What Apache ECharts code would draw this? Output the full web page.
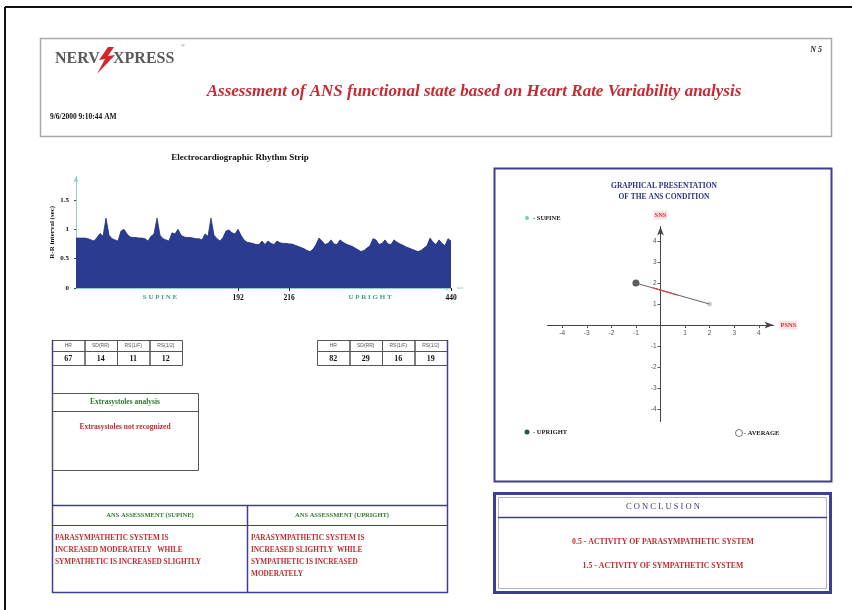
<!DOCTYPE html>
<html><head><meta charset="utf-8">
<script src="https://cdn.jsdelivr.net/npm/echarts@6/dist/echarts.min.js"></script>
<style>html,body{margin:0;padding:0;background:#fff}#c{width:852px;height:610px}</style>
</head><body><div id="c"></div>
<script>
// ---- Rhythm strip (R-R intervals, sec) ----
const rrValues = [0.85,0.85,0.85,0.85,0.84,0.82,0.80,0.86,0.93,0.88,
 1.19,0.90,0.84,0.82,0.80,0.97,1.00,0.92,0.87,0.86,
 0.86,0.85,0.85,0.84,0.80,0.88,0.92,1.19,0.90,0.84,
 0.82,0.80,0.94,0.92,1.00,0.90,0.87,0.86,0.86,0.85,
 0.84,0.84,0.82,0.92,0.88,1.19,0.90,0.84,0.80,0.86,
 0.97,0.99,0.94,0.92,1.00,0.90,0.82,0.78,0.77,0.76,
 0.74,0.74,0.80,0.74,0.80,0.76,0.74,0.80,0.77,0.76,
 0.76,0.75,0.75,0.73,0.71,0.69,0.67,0.64,0.62,0.66,
 0.74,0.85,0.80,0.74,0.76,0.82,0.75,0.74,0.82,0.78,
 0.75,0.73,0.71,0.68,0.65,0.62,0.64,0.68,0.72,0.84,
 0.82,0.74,0.76,0.82,0.75,0.74,0.82,0.78,0.75,0.73,
 0.70,0.68,0.66,0.64,0.62,0.64,0.68,0.72,0.85,0.78,
 0.74,0.82,0.76,0.72,0.84,0.80];
const rrLabelIndex = [28, 54, 71, 98, 125];
const rrLabelText = ['S U P I N E', '192', '216', 'U P R I G H T', '440'];
const rrYTicks = [0, 0.5, 1, 1.5];

// ---- ANS condition scatter ----
const scatterTicks = [-4, -3, -2, -1, 1, 2, 3, 4];
const supinePoint = [[2, 1]];
const uprightPoint = [[-1, 2]];
const averagePoint = [[0.5, 1.5]];
const shiftLine = [[-1, 2], [2, 1]];
const shiftHighlight = [[-0.3, 1.77], [0.7, 1.43]];

// ---- Tables ----
const paramNames = ['HR', 'SD(RR)', 'RS(1/F)', 'RS(1/2)'];
const supineParams = [67, 14, 11, 12];
const uprightParams = [82, 29, 16, 19];

const rrCategories = rrValues.map((v, i) => {
  const k = rrLabelIndex.indexOf(i);
  return k >= 0 ? rrLabelText[k] : '';
});

const SERIF = '"Liberation Serif", "Times New Roman", serif';
const RED = '#c62a32', GREEN = '#2f7a2a', BLUE = '#3e3e96';

function T(x, y, text, font, fill, align) {
  return {type: 'text', x: x, y: y, z: 20, style: {text: text, font: font, fill: fill || '#111', align: align || 'left', verticalAlign: 'middle'}};
}
function L(x1, y1, x2, y2, c, w) {
  return {type: 'line', z: 15, shape: {x1: x1, y1: y1, x2: x2, y2: y2}, style: {stroke: c, lineWidth: w}};
}
function R(x, y, w, h, c, lw) {
  return {type: 'rect', z: 15, shape: {x: x, y: y, width: w, height: h}, style: {stroke: c, lineWidth: lw, fill: 'none'}};
}

const g = [];
// outer frame
g.push(L(5, 7, 852, 7, '#111', 2), L(5, 7, 5, 610, '#111', 2));
// header
g.push(R(40.5, 38.5, 791, 98, '#a9a9a9', 1.5));
g.push(T(55, 59, 'NERV', 'bold 16px ' + SERIF, '#5a5a5a'));
g.push({type: 'polygon', z: 20, shape: {points: [[108, 47], [99, 60], [105, 59], [97, 74], [115, 55], [108, 56], [114, 47]]}, style: {fill: '#d4262e'}});
g.push(T(113, 59, 'XPRESS', 'bold 16px ' + SERIF, '#5a5a5a'));
g.push(T(181, 46, '®', '5px ' + SERIF, '#666'));
g.push(T(822, 50, 'N 5', 'italic bold 8px ' + SERIF, '#222', 'right'));
g.push(T(474, 92, 'Assessment of ANS functional state based on Heart Rate Variability analysis', 'italic bold 17px ' + SERIF, RED, 'center'));
g.push(T(50, 117, '9/6/2000 9:10:44 AM', 'bold 7.5px ' + SERIF, '#111'));
// strip title
g.push(T(240, 158, 'Electrocardiographic Rhythm Strip', 'bold 9px ' + SERIF, '#111', 'center'));

// tables
function table(x0, vals) {
  const cw = 32.5;
  for (let i = 0; i < 4; i++) {
    const x = x0 + i * cw;
    g.push(R(x + 0.5, 340.5, cw, 11, '#555', 1));
    g.push(R(x + 0.5, 351.5, cw, 14, '#555', 1));
    g.push(T(x + cw / 2, 346, paramNames[i], '5px "Liberation Sans", sans-serif', '#555', 'center'));
    g.push(T(x + cw / 2, 358.5, String(vals[i]), 'bold 8px ' + SERIF, '#111', 'center'));
  }
}
table(52, supineParams);
table(317, uprightParams);

// left big box sides
g.push(L(52.5, 340, 52.5, 593, BLUE, 1.5), L(447.5, 340, 447.5, 593, BLUE, 1.5));
// extrasystoles box
g.push(R(52.5, 393.5, 146, 77, '#555', 1), L(52.5, 411.5, 198.5, 411.5, '#555', 1));
g.push(T(125, 402, 'Extrasystoles analysis', 'bold 7.5px ' + SERIF, GREEN, 'center'));
g.push(T(125, 427, 'Extrasystoles not recognized', 'bold 7.5px ' + SERIF, RED, 'center'));
// ANS assessment
g.push(L(52, 505.5, 448, 505.5, BLUE, 1.5), L(52, 525.5, 448, 525.5, BLUE, 1), L(247.5, 505, 247.5, 593, BLUE, 1.5), L(52, 592.5, 448, 592.5, BLUE, 1.5));
g.push(T(150, 515, 'ANS ASSESSMENT (SUPINE)', 'bold 6.5px ' + SERIF, GREEN, 'center'));
g.push(T(342, 515, 'ANS ASSESSMENT (UPRIGHT)', 'bold 6.5px ' + SERIF, GREEN, 'center'));
const leftTxt = ['PARASYMPATHETIC SYSTEM IS', 'INCREASED MODERATELY   WHILE', 'SYMPATHETIC IS INCREASED SLIGHTLY'];
const rightTxt = ['PARASYMPATHETIC SYSTEM IS', 'INCREASED SLIGHTLY  WHILE', 'SYMPATHETIC IS INCREASED', 'MODERATELY'];
leftTxt.forEach((s, i) => g.push(T(55, 538 + i * 12, s, 'bold 7.3px ' + SERIF, RED)));
rightTxt.forEach((s, i) => g.push(T(251, 538 + i * 12, s, 'bold 7.3px ' + SERIF, RED)));

// graph box
g.push(R(494.5, 168.5, 337, 313, BLUE, 2));
g.push(T(664, 186, 'GRAPHICAL PRESENTATION', 'bold 7.5px ' + SERIF, '#2d3580', 'center'));
g.push(T(664, 197, 'OF THE ANS CONDITION', 'bold 7.5px ' + SERIF, '#2d3580', 'center'));
g.push({type: 'circle', z: 20, shape: {cx: 527, cy: 218, r: 2}, style: {fill: '#7cc8bb'}});
g.push(T(533, 218, '- SUPINE', 'bold 6.5px ' + SERIF, '#222'));
g.push({type: 'circle', z: 20, shape: {cx: 527, cy: 432, r: 2.5}, style: {fill: '#245a3a'}});
g.push(T(533, 432, '- UPRIGHT', 'bold 6.5px ' + SERIF, '#222'));
g.push({type: 'circle', z: 20, shape: {cx: 739, cy: 433, r: 3.5}, style: {fill: '#fff', stroke: '#777', lineWidth: 1}});
g.push(T(744, 433, '- AVERAGE', 'bold 6.5px ' + SERIF, '#222'));

// conclusion box
g.push(R(494.5, 493.5, 336, 99, BLUE, 3), R(498.5, 497.5, 328, 91, '#b0b0d6', 1), L(498, 517.5, 827, 517.5, BLUE, 1.5));
g.push(T(663, 507, 'C O N C L U S I O N', '8.5px ' + SERIF, '#3a3a7a', 'center'));
g.push(T(663, 542, '0.5 - ACTIVITY OF PARASYMPATHETIC SYSTEM', 'bold 7.8px ' + SERIF, RED, 'center'));
g.push(T(663, 566, '1.5 - ACTIVITY OF SYMPATHETIC SYSTEM', 'bold 7.8px ' + SERIF, RED, 'center'));

// scatter grid geometry
const sgLeft = 547.5, sgRight = 78.5, sgTop = 226.5, sgBottom = 188.5;
const sxMin = -4.6, sxMax = 4.6, syMin = -4.6, syMax = 4.7;
const sgW = 852 - sgLeft - sgRight, sgH = 610 - sgTop - sgBottom;
const xZeroOffset = -(sgW * (0 - sxMin) / (sxMax - sxMin));
const yZeroOffset = -(sgH * (0 - syMin) / (syMax - syMin));

const chart = echarts.init(document.getElementById('c'), null, {renderer: 'canvas'});
chart.setOption({
  animation: false,
  backgroundColor: '#fff',
  textStyle: {fontFamily: SERIF},
  grid: [
    {left: 76, right: 401, top: 176.5, bottom: 322},
    {left: sgLeft, right: sgRight, top: sgTop, bottom: sgBottom}
  ],
  xAxis: [
    {gridIndex: 0, type: 'category', data: rrCategories, boundaryGap: false,
     axisLine: {lineStyle: {color: '#8fd0c6', width: 1}, symbol: ['none', 'arrow'], symbolSize: [4, 6]},
     axisTick: {interval: (i) => rrLabelIndex.indexOf(i) >= 0 && !isNaN(+rrCategories[i]), length: 3, lineStyle: {color: '#222'}},
     axisLabel: {interval: 0, margin: 6, formatter: (v) => v === '' ? '' : (isNaN(+v) ? '{w|' + v + '}' : '{n|' + v + '}'),
       rich: {w: {color: '#3aa08f', fontSize: 7, fontWeight: 'bold', fontFamily: SERIF},
              n: {color: '#111', fontSize: 7.5, fontWeight: 'bold', fontFamily: SERIF}}},
     splitLine: {show: false},
     name: 'sec', nameGap: 6, nameTextStyle: {color: '#6cbab0', fontSize: 5}},
    {gridIndex: 1, type: 'value', min: sxMin, max: sxMax, position: 'bottom', offset: yZeroOffset,
     axisLine: {onZero: false, symbol: ['none', 'arrow'], symbolSize: [5, 9], lineStyle: {color: '#444', width: 1}},
     axisTick: {customValues: scatterTicks, length: 3, lineStyle: {color: '#555'}},
     axisLabel: {customValues: scatterTicks, color: '#555', fontSize: 6.5, fontFamily: '"Liberation Sans", sans-serif', margin: 5},
     splitLine: {show: false},
     name: 'PSNS', nameGap: 6, nameTextStyle: {color: '#d0303a', fontWeight: 'bold', fontSize: 6.5, backgroundColor: '#fbe3e3', padding: [1, 1]}}
  ],
  yAxis: [
    {gridIndex: 0, type: 'value', min: 0, max: 1.9,
     axisLine: {show: true, lineStyle: {color: '#8fd0c6', width: 1}, symbol: ['none', 'arrow'], symbolSize: [4, 6]},
     axisTick: {show: true, customValues: rrYTicks, length: 2, lineStyle: {color: '#444'}},
     axisLabel: {customValues: rrYTicks, color: '#111', fontSize: 7, fontWeight: 'bold', fontFamily: SERIF, margin: 7},
     splitLine: {show: false},
     name: 'R-R interval (sec)', nameLocation: 'middle', nameRotate: 90, nameGap: 20,
     nameTextStyle: {color: '#111', fontSize: 7, fontWeight: 'bold', fontFamily: SERIF}},
    {gridIndex: 1, type: 'value', min: syMin, max: syMax, position: 'left', offset: xZeroOffset,
     axisLine: {show: true, onZero: false, symbol: ['none', 'arrow'], symbolSize: [5, 9], lineStyle: {color: '#444', width: 1}},
     axisTick: {show: true, customValues: scatterTicks, length: 3, lineStyle: {color: '#555'}},
     axisLabel: {customValues: scatterTicks, color: '#555', fontSize: 6.5, fontFamily: '"Liberation Sans", sans-serif', margin: 4},
     splitLine: {show: false},
     name: 'SNS', nameGap: 7, nameTextStyle: {color: '#d0303a', fontWeight: 'bold', fontSize: 6.5, backgroundColor: '#fbe3e3', padding: [1, 1]}}
  ],
  series: [
    {type: 'line', xAxisIndex: 0, yAxisIndex: 0, data: rrValues, symbol: 'none',
     lineStyle: {color: '#1f2c7a', width: 0.8}, areaStyle: {color: '#2b3b8f', opacity: 1}},
    {type: 'line', xAxisIndex: 1, yAxisIndex: 1, data: shiftLine, symbol: 'none',
     lineStyle: {color: '#666', width: 1}},
    {type: 'line', xAxisIndex: 1, yAxisIndex: 1, data: shiftHighlight, symbol: 'none',
     lineStyle: {color: '#d04848', width: 1.2}},
    {type: 'scatter', xAxisIndex: 1, yAxisIndex: 1, data: supinePoint, symbolSize: 5,
     itemStyle: {color: '#c8c8c8'}},
    {type: 'scatter', xAxisIndex: 1, yAxisIndex: 1, data: uprightPoint, symbolSize: 7,
     itemStyle: {color: '#333'}},
    {type: 'scatter', xAxisIndex: 1, yAxisIndex: 1, data: averagePoint, symbol: 'emptyCircle', symbolSize: 9,
     itemStyle: {color: '#fff', borderColor: '#a07878', borderWidth: 1}}
  ],
  graphic: g
});
</script>
</body></html>
